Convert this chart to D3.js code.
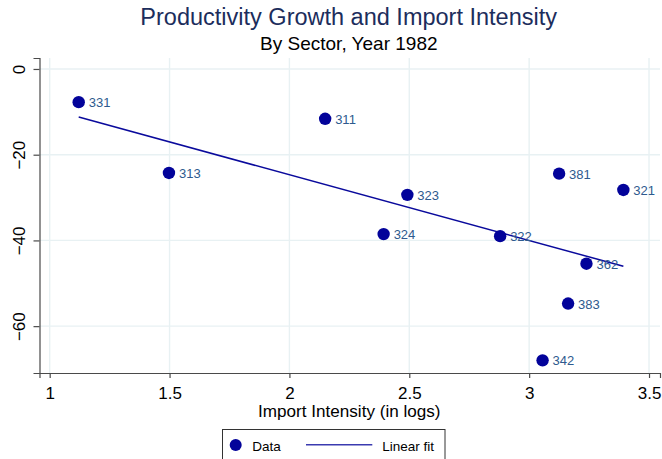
<!DOCTYPE html>
<html>
<head>
<meta charset="utf-8">
<script src="https://cdn.jsdelivr.net/npm/d3@7"></script>
<style>
  html, body { margin: 0; padding: 0; background: #fff; }
  svg { display: block; font-family: "Liberation Sans", Arial, sans-serif; }
</style>
</head>
<body>
<svg id="chart" width="662" height="459"></svg>
<script>
// Sector codes with import intensity (logs) and productivity growth
const sectors = ["331", "311", "313", "323", "324", "322", "381", "321", "362", "383", "342"];
const importIntensity = [1.121, 2.149, 1.4975, 2.492, 2.393, 2.879, 3.125, 3.393, 3.239, 3.1625, 3.056];
const productivityGrowth = [-7.74, -11.63, -24.26, -29.37, -38.53, -39.0, -24.42, -28.22, -45.43, -54.73, -67.98];

const xTicks = [1, 1.5, 2, 2.5, 3, 3.5];
const yTicks = [0, -20, -40, -60];

const titleText = "Productivity Growth and Import Intensity";
const subtitleText = "By Sector, Year 1982";
const xAxisTitle = "Import Intensity (in logs)";
const legendLabels = ["Data", "Linear fit"];

const markerColor = "#03039a";
const fitColor = "#0a0a9c";
const labelColor = "#2e5a8e";
const gridColor = "#e8f1f3";
const axisColor = "#4a4a4a";
const fontStack = "Liberation Sans, Arial, sans-serif";

const svg = d3.select("#chart");

const plot = { left: 39.5, right: 660, top: 58, bottom: 373 };

const x = d3.scaleLinear().domain([0.9575, 3.5458]).range([plot.left, plot.right]);
const y = d3.scaleLinear().domain([-70.93, 2.56]).range([plot.bottom, plot.top]);

// Gridlines
svg.append("g").selectAll("line").data(xTicks).join("line")
  .attr("x1", d => x(d)).attr("x2", d => x(d))
  .attr("y1", plot.top).attr("y2", plot.bottom)
  .attr("stroke", gridColor).attr("stroke-width", 1.4);
svg.append("g").selectAll("line").data(yTicks).join("line")
  .attr("x1", plot.left).attr("x2", plot.right)
  .attr("y1", d => y(d)).attr("y2", d => y(d))
  .attr("stroke", gridColor).attr("stroke-width", 1.4);

// Axes
const xAxis = d3.axisBottom(x).tickValues(xTicks).tickSize(5).tickPadding(9)
  .tickFormat(d3.format("~g"));
const gx = svg.append("g").attr("transform", `translate(0,${plot.bottom})`).call(xAxis);
gx.select(".domain").attr("stroke", axisColor).attr("stroke-width", 1.2);
gx.selectAll(".tick line").attr("stroke", axisColor).attr("stroke-width", 1.2);
gx.selectAll(".tick text").attr("fill", "#000").attr("font-size", 17)
  .attr("font-family", fontStack);

const yAxis = d3.axisLeft(y).tickValues(yTicks).tickSize(6).tickPadding(0)
  .tickFormat(d3.format("d"));
const gy = svg.append("g").attr("transform", `translate(${plot.left},0)`).call(yAxis);
gy.select(".domain").attr("stroke", axisColor).attr("stroke-width", 1.2);
gy.selectAll(".tick line").attr("stroke", axisColor).attr("stroke-width", 1.2);
gy.selectAll(".tick text")
  .attr("fill", "#000").attr("font-size", 17)
  .attr("font-family", fontStack)
  .attr("x", null).attr("dy", "0")
  .attr("text-anchor", "middle")
  .attr("transform", "translate(-14.5,0) rotate(-90)");

// Least-squares fit line across the observed range
const n = importIntensity.length;
const mx = d3.mean(importIntensity), my = d3.mean(productivityGrowth);
let sxy = 0, sxx = 0;
for (let i = 0; i < n; i++) {
  sxy += (importIntensity[i] - mx) * (productivityGrowth[i] - my);
  sxx += (importIntensity[i] - mx) ** 2;
}
const slope = sxy / sxx, intercept = my - slope * mx;
const [xmin, xmax] = d3.extent(importIntensity);
svg.append("line")
  .attr("x1", x(xmin)).attr("y1", y(intercept + slope * xmin))
  .attr("x2", x(xmax)).attr("y2", y(intercept + slope * xmax))
  .attr("stroke", fitColor).attr("stroke-width", 1.5);

// Markers and sector labels
const pts = sectors.map((s, i) => ({ s, x: importIntensity[i], y: productivityGrowth[i] }));
svg.append("g").selectAll("circle").data(pts).join("circle")
  .attr("cx", d => x(d.x)).attr("cy", d => y(d.y)).attr("r", 6.2)
  .attr("fill", markerColor);
svg.append("g").selectAll("text").data(pts).join("text")
  .attr("x", d => x(d.x) + 10).attr("y", d => y(d.y) + 5)
  .attr("font-size", 13).attr("fill", labelColor)
  .text(d => d.s);

// Titles
svg.append("text").attr("x", 348.7).attr("y", 25).attr("text-anchor", "middle")
  .attr("font-size", 23.5).attr("fill", "#1c2d5c").text(titleText);
svg.append("text").attr("x", 348.8).attr("y", 50).attr("text-anchor", "middle")
  .attr("font-size", 19).attr("fill", "#000").text(subtitleText);
svg.append("text").attr("x", 349.3).attr("y", 416.7).attr("text-anchor", "middle")
  .attr("font-size", 17.1).attr("fill", "#000").text(xAxisTitle);

// Legend
const lg = svg.append("g");
lg.append("rect").attr("x", 222.5).attr("y", 429.5).attr("width", 222.5).attr("height", 40)
  .attr("fill", "#fff").attr("stroke", "#333").attr("stroke-width", 1);
lg.append("circle").attr("cx", 235.7).attr("cy", 445).attr("r", 6).attr("fill", markerColor);
lg.append("text").attr("x", 252.3).attr("y", 450.7).attr("font-size", 13.5).attr("fill", "#000")
  .text(legendLabels[0]);
lg.append("line").attr("x1", 306).attr("x2", 372.3).attr("y1", 444.7).attr("y2", 444.7)
  .attr("stroke", "#3b3bb0").attr("stroke-width", 1.5);
lg.append("text").attr("x", 382.3).attr("y", 450.7).attr("font-size", 13.5).attr("fill", "#000")
  .text(legendLabels[1]);
</script>
</body>
</html>
